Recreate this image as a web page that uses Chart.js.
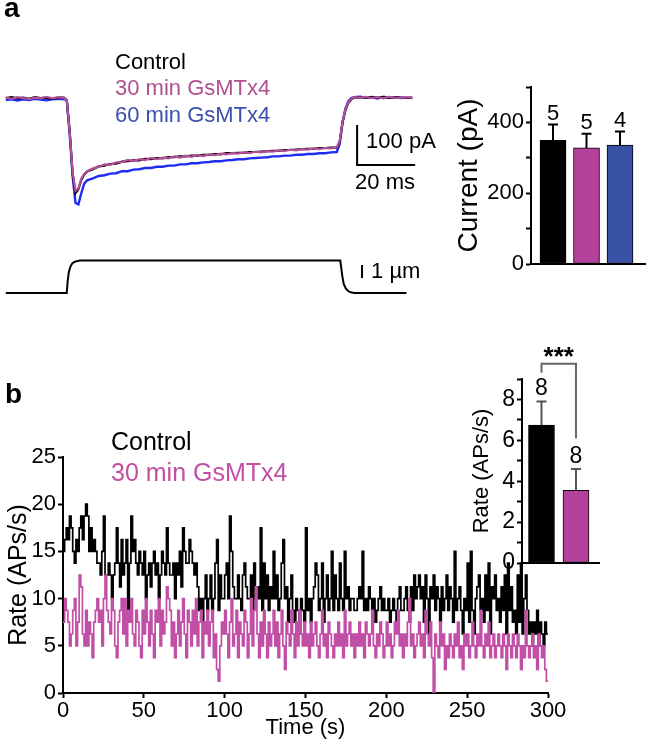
<!DOCTYPE html>
<html>
<head>
<meta charset="utf-8">
<script src="https://cdn.jsdelivr.net/npm/chart.js@4/dist/chart.umd.min.js"></script>
<style>
  body { margin: 0; background: #fff; }
  #page { position: relative; width: 649px; height: 744px; overflow: hidden; font-family: 'Liberation Sans', Arial, sans-serif; }
  canvas { position: absolute; }
  .txt { position: absolute; white-space: nowrap; line-height: 1; }
</style>
</head>
<body>
<div id="page">
  <canvas id="traceA" width="450" height="300" style="left:0;top:0"></canvas>
  <canvas id="barA" width="209" height="210" style="left:440px;top:70px"></canvas>
  <canvas id="rateB" width="580" height="344" style="left:0;top:400px"></canvas>
  <canvas id="barB" width="175" height="250" style="left:440px;top:330px"></canvas>

  <div class="txt" style="left:4px;top:-6px;font-size:28px;font-weight:bold">a</div>
  <div class="txt" style="left:115px;top:51px;font-size:22px;color:#000">Control</div>
  <div class="txt" style="left:115px;top:77px;font-size:22px;color:#b0508f">30 min GsMTx4</div>
  <div class="txt" style="left:115px;top:104px;font-size:22px;color:#3b4fae">60 min GsMTx4</div>

  <div class="txt" style="left:5px;top:380px;font-size:28px;font-weight:bold">b</div>
  <div class="txt" style="left:111px;top:429px;font-size:25px;color:#000">Control</div>
  <div class="txt" style="left:111px;top:460px;font-size:25px;color:#c14fa6">30 min GsMTx4</div>
</div>
<script>
const FONT = "'Liberation Sans', Arial, sans-serif";

// ---- panel a: current traces (ms, pA) ----
const traceTimes = [0, 2, 4, 6, 8, 10, 12, 14, 16, 18, 20,
  21, 22, 23, 24, 25, 26, 27, 28,
  30, 32, 34, 36, 38, 40, 42, 44, 46, 48, 50, 52, 54, 56, 58, 60, 62, 64, 66, 68, 70, 72,
  74, 76, 78, 80, 82, 84, 86, 88, 90, 92, 94, 96, 98, 100, 102, 104, 106, 108, 110, 112, 114,
  115, 116, 117, 118, 119, 120,
  122, 124, 126, 128, 130, 132, 134, 136, 138, 140];
const controlTrace = [0, 2, -1, 1, -2, 2, 0, 1, -2, 1, 1,
  -5, -82, -188, -238, -228, -205, -192, -184,
  -178, -171, -169, -165, -164, -159, -158, -156, -156, -152, -153, -150, -151, -148, -148,
  -146, -146, -144, -144, -142, -142, -140, -141, -138, -138, -137, -137, -135, -135, -134,
  -133, -132, -132, -130, -130, -129, -128, -127, -127, -125, -125, -124, -124,
  -110, -60, -30, -12, -3, 1,
  2, 0, 3, 1, 2, 0, 2, 1, 0, 1];
const gsmtx30Trace = [1, -2, 2, 0, -3, 1, -1, 3, -1, 2, 0,
  -6, -85, -185, -232, -226, -202, -190, -183,
  -176, -172, -166, -167, -161, -160, -155, -158, -153, -155, -150, -153, -149, -151, -146,
  -149, -144, -147, -142, -145, -141, -143, -139, -141, -138, -139, -136, -138, -134, -136,
  -133, -134, -131, -133, -129, -131, -128, -129, -126, -128, -125, -126, -123,
  -108, -58, -28, -10, -2, 2,
  1, 3, 0, 2, -1, 3, 1, 0, 2, 0];
const gsmtx60Trace = [-5, -3, -6, -3, -5, -2, -4, -6, -3, -2, -3,
  -6, -90, -195, -262, -266, -238, -214, -206,
  -201, -195, -193, -189, -188, -183, -183, -179, -178, -175, -175, -172, -172, -169, -169,
  -166, -166, -163, -163, -161, -160, -158, -158, -156, -155, -153, -153, -151, -150, -149,
  -148, -146, -146, -144, -144, -142, -142, -140, -140, -138, -138, -136, -135,
  -115, -60, -26, -8, 0, 2,
  3, 1, 2, -1, 3, 1, 2, 0, 1, 0];

// probe displacement (ms, µm)
const stimTimes = [0, 21, 21.3, 21.7, 22.3, 23, 24, 25.5, 27, 115.2, 115.5, 115.9, 116.4, 117.1, 117.9, 118.8, 120, 138];
const stimDisp = [0, 0, 0.9, 1.6, 2.05, 2.3, 2.43, 2.49, 2.5, 2.5, 2.0, 1.3, 0.7, 0.35, 0.15, 0.05, 0, 0];

// scale bars
const pABar = { t: 121, top: -67.5, len: 100 };
const msBarLen = 20;
const umBar = { t: 122.7, base: 1.15, len: 1 };

// ---- panel a: peak current ----
const currentGroups = ['Control', '30 min GsMTx4', '60 min GsMTx4'];
const currentMean = [349, 328, 336];
const currentSem = [45, 40, 38];
const currentN = [5, 5, 4];

// ---- panel b: firing rate, 1 s bins ----
const binWidth = 1;
const controlRate = [
  15, 16.25, 17.5, 16.25, 18.75, 17.5, 15, 13.75, 16.25, 15,
  17.5, 18.75, 16.25, 18.75, 20, 18.75, 15, 17.5, 15, 16.25,
  15, 13.75, 13.75, 12.5, 15, 18.75, 12.5, 12.5, 13.75, 12.5,
  10, 12.5, 13.75, 17.5, 13.75, 11.25, 16.25, 12.5, 13.75, 16.25,
  7.5, 13.75, 18.75, 15, 16.25, 13.75, 12.5, 15, 13.75, 12.5,
  15, 10, 12.5, 13.75, 11.25, 13.75, 15, 12.5, 13.75, 10,
  12.5, 15, 13.75, 12.5, 17.5, 13.75, 12.5, 12.5, 13.75, 10,
  13.75, 12.5, 15, 11.25, 17.5, 15, 13.75, 13.75, 16.25, 15,
  13.75, 12.5, 13.75, 11.25, 8.75, 10, 7.5, 10, 12.5, 8.75,
  10, 12.5, 8.75, 10, 13.75, 16.25, 8.75, 12.5, 10, 10,
  12.5, 13.75, 10, 18.75, 15, 11.25, 10, 10, 12.5, 10,
  8.75, 12.5, 13.75, 11.25, 10, 10, 12.5, 8.75, 13.75, 10,
  11.25, 10, 17.5, 8.75, 13.75, 10, 12.5, 8.75, 11.25, 10,
  15, 10, 12.5, 8.75, 10, 13.75, 16.25, 10, 11.25, 7.5,
  10, 12.5, 8.75, 7.5, 10, 8.75, 6.25, 10, 8.75, 7.5,
  17.5, 8.75, 10, 7.5, 10, 11.25, 13.75, 12.5, 8.75, 10,
  13.75, 7.5, 10, 12.5, 8.75, 10, 15, 8.75, 12.5, 10,
  8.75, 13.75, 10, 8.75, 15, 10, 11.25, 8.75, 10, 10,
  8.75, 8.75, 10, 11.25, 10, 15, 8.75, 10, 8.75, 11.25,
  10, 8.75, 10, 7.5, 8.75, 10, 11.25, 8.75, 10, 8.75,
  8.75, 10, 7.5, 8.75, 10, 8.75, 7.5, 10, 11.25, 8.75,
  8.75, 10, 11.25, 8.75, 7.5, 11.25, 8.75, 12.5, 10, 11.25,
  12.5, 10, 11.25, 7.5, 12.5, 10, 6.25, 11.25, 10, 12.5,
  8.75, 11.25, 10, 7.5, 11.25, 8.75, 10, 12.5, 8.75, 11.25,
  10, 7.5, 15, 8.75, 10, 11.25, 8.75, 6.25, 10, 8.75,
  13.75, 7.5, 15, 8.75, 6.25, 10, 11.25, 12.5, 8.75, 10,
  7.5, 12.5, 8.75, 13.75, 6.25, 11.25, 10, 12.5, 8.75, 10,
  7.5, 11.25, 8.75, 12.5, 6.25, 13.75, 8.75, 11.25, 7.5, 8.75,
  6.25, 12.5, 7.5, 13.75, 6.25, 10, 12.5, 8.75, 6.25, 7.5,
  5, 7.5, 6.25, 8.75, 5, 7.5, 6.25, 5, 7.5, 6.25
];
const gsmtxRate = [
  7.5, 10, 8.75, 7.5, 5, 6.25, 8.75, 10, 5, 7.5,
  12.5, 11.25, 6.25, 5, 8.75, 5, 7.5, 6.25, 3.75, 7.5,
  8.75, 10, 7.5, 8.75, 5, 10, 12.5, 8.75, 7.5, 6.25,
  10, 8.75, 5, 3.75, 7.5, 8.75, 10, 6.25, 10, 5,
  8.75, 7.5, 10, 6.25, 5, 8.75, 7.5, 5, 3.75, 8.75,
  6.25, 10, 7.5, 5, 8.75, 6.25, 3.75, 8.75, 7.5, 10,
  5, 8.75, 6.25, 7.5, 11.25, 10, 8.75, 5, 7.5, 3.75,
  6.25, 8.75, 5, 7.5, 10, 6.25, 3.75, 8.75, 7.5, 5,
  8.75, 6.25, 10, 5, 7.5, 8.75, 3.75, 7.5, 6.25, 8.75,
  5, 7.5, 8.75, 3.75, 6.25, 2.5, 1.25, 5, 7.5, 6.25,
  8.75, 6.25, 3.75, 7.5, 10, 5, 6.25, 8.75, 3.75, 7.5,
  6.25, 5, 8.75, 7.5, 3.75, 6.25, 10, 5, 8.75, 11.25,
  6.25, 3.75, 7.5, 5, 8.75, 6.25, 3.75, 7.5, 5, 6.25,
  8.75, 5, 7.5, 3.75, 6.25, 8.75, 5, 2.5, 7.5, 6.25,
  5, 8.75, 6.25, 3.75, 7.5, 5, 8.75, 6.25, 5, 7.5,
  5, 6.25, 3.75, 7.5, 5, 6.25, 7.5, 5, 3.75, 6.25,
  8.75, 5, 6.25, 3.75, 7.5, 6.25, 5, 3.75, 6.25, 5,
  7.5, 5, 6.25, 3.75, 8.75, 5, 6.25, 7.5, 5, 6.25,
  3.75, 6.25, 5, 7.5, 5, 6.25, 3.75, 7.5, 6.25, 5,
  6.25, 8.75, 5, 3.75, 6.25, 5, 7.5, 6.25, 3.75, 5,
  7.5, 5, 6.25, 3.75, 5, 7.5, 6.25, 8.75, 5, 6.25,
  3.75, 6.25, 5, 7.5, 10, 5, 6.25, 3.75, 5, 6.25,
  7.5, 5, 6.25, 3.75, 8.75, 6.25, 5, 7.5, 3.75, 0,
  6.25, 5, 3.75, 7.5, 5, 6.25, 2.5, 5, 3.75, 6.25,
  5, 3.75, 6.25, 5, 7.5, 3.75, 5, 2.5, 6.25, 5,
  6.25, 3.75, 5, 7.5, 5, 3.75, 6.25, 5, 8.75, 5,
  3.75, 6.25, 5, 7.5, 3.75, 5, 6.25, 3.75, 5, 6.25,
  5, 3.75, 6.25, 5, 2.5, 6.25, 5, 3.75, 6.25, 5,
  3.75, 6.25, 5, 2.5, 5, 3.75, 8.75, 5, 3.75, 5,
  6.25, 3.75, 5, 2.5, 6.25, 5, 3.75, 5, 2.5, 1.25
];

// ---- panel b inset: mean rate ----
const rateGroups = ['Control', '30 min GsMTx4'];
const rateMean = [6.75, 3.55];
const rateSem = [1.15, 1.05];
const rateN = [8, 8];
const rateSig = '***';

const BLACK = '#000';
const MAG_TRACE = '#b4509a';
const BLUE_TRACE = '#1f2cf2';
const MAG_BAR = '#b3409a';
const BLUE_BAR = '#3a52a6';
const MAG_B = '#c14fa6';

Chart.defaults.font.family = FONT;
Chart.defaults.color = '#000';

const pts = (xs, ys) => xs.map((x, i) => ({ x, y: ys[i] }));

const axisStyle = (size) => ({
  border: { display: true, color: '#000', width: 2 },
  grid: { display: true, drawOnChartArea: false, drawTicks: true, tickLength: 5, tickColor: '#000', tickWidth: 2 },
  ticks: { color: '#000', font: { size }, padding: 2, maxRotation: 0, autoSkip: false }
});

// scale bars + labels for the traces
const scaleBars = {
  id: 'scaleBars',
  afterDatasetsDraw(chart) {
    const { ctx, scales: { x, y, yStim } } = chart;
    const x0 = x.getPixelForValue(pABar.t);
    const x1 = x.getPixelForValue(pABar.t + msBarLen);
    const yTop = y.getPixelForValue(pABar.top);
    const yBot = y.getPixelForValue(pABar.top - pABar.len);
    ctx.save();
    ctx.strokeStyle = '#000';
    ctx.lineWidth = 2;
    ctx.beginPath();
    ctx.moveTo(x0, yTop);
    ctx.lineTo(x0, yBot);
    ctx.lineTo(x1, yBot);
    const ux = x.getPixelForValue(umBar.t);
    ctx.moveTo(ux, yStim.getPixelForValue(umBar.base));
    ctx.lineTo(ux, yStim.getPixelForValue(umBar.base + umBar.len));
    ctx.stroke();
    ctx.fillStyle = '#000';
    ctx.font = '22px ' + FONT;
    ctx.textBaseline = 'middle';
    ctx.textAlign = 'left';
    ctx.fillText('100 pA', x0 + 9, (yTop + yBot) / 2 - 3);
    ctx.fillText('20 ms', x0 - 2, yBot + 18);
    ctx.fillText('1 µm', ux + 9, yStim.getPixelForValue(umBar.base + umBar.len / 2));
    ctx.restore();
  }
};

new Chart(document.getElementById('traceA'), {
  type: 'line',
  data: {
    datasets: [
      { label: '30 min GsMTx4', data: pts(traceTimes, gsmtx30Trace), borderColor: MAG_TRACE, borderWidth: 2.2 },
      { label: 'Control', data: pts(traceTimes, controlTrace), borderColor: BLACK, borderWidth: 2.2 },
      { label: '60 min GsMTx4', data: pts(traceTimes, gsmtx60Trace), borderColor: BLUE_TRACE, borderWidth: 2.4 },
      { label: 'Probe', data: pts(stimTimes, stimDisp), borderColor: BLACK, borderWidth: 2, yAxisID: 'yStim' }
    ]
  },
  options: {
    responsive: false,
    animation: false,
    layout: { padding: 0, autoPadding: false },
    elements: { point: { radius: 0 }, line: { tension: 0 } },
    scales: {
      x: { type: 'linear', display: false, min: -2, max: 153 },
      y: { display: false, min: -505, max: 245 },
      yStim: { display: false, min: -0.54, max: 22.54 }
    },
    plugins: { legend: { display: false }, tooltip: { enabled: false } }
  },
  plugins: [scaleBars]
});

// error bars, n labels and optional significance bracket
function makeErrorPlugin(means, sems, ns, opts) {
  return {
    id: 'errs' + opts.key,
    afterDatasetsDraw(chart) {
      const { ctx, scales: { y } } = chart;
      const meta = chart.getDatasetMeta(0);
      ctx.save();
      means.forEach((m, i) => {
        const el = meta.data[i];
        const top = y.getPixelForValue(m + sems[i]);
        ctx.strokeStyle = opts.errColor;
        ctx.lineWidth = 2;
        ctx.beginPath();
        ctx.moveTo(el.x, el.y);
        ctx.lineTo(el.x, top);
        ctx.moveTo(el.x - 5, top);
        ctx.lineTo(el.x + 5, top);
        ctx.stroke();
        ctx.fillStyle = '#000';
        ctx.font = opts.nFont + 'px ' + FONT;
        ctx.textAlign = 'center';
        ctx.textBaseline = 'alphabetic';
        ctx.fillText(String(ns[i]), el.x, top - opts.nGap);
      });
      if (opts.sig) {
        const a = meta.data[0], b = meta.data[1];
        const yA = y.getPixelForValue(opts.sig.from);
        const yTop = y.getPixelForValue(opts.sig.top);
        const yB = y.getPixelForValue(opts.sig.to);
        ctx.strokeStyle = '#666';
        ctx.lineWidth = 2;
        ctx.beginPath();
        ctx.moveTo(a.x, yA);
        ctx.lineTo(a.x, yTop);
        ctx.lineTo(b.x, yTop);
        ctx.lineTo(b.x, yB);
        ctx.stroke();
        ctx.fillStyle = '#000';
        ctx.font = 'bold 26px ' + FONT;
        ctx.textBaseline = 'middle';
        ctx.fillText(opts.sig.text, (a.x + b.x) / 2, yTop - 6);
      }
      ctx.restore();
    }
  };
}

function barChart(id, groups, means, colors, cfg, plugin) {
  return new Chart(document.getElementById(id), {
    type: 'bar',
    data: {
      labels: groups,
      datasets: [{
        data: means.map((v, i) => ({ x: i + 1, y: v })),
        backgroundColor: colors,
        borderColor: '#000',
        borderWidth: 1,
        borderSkipped: false,
        barThickness: 26
      }]
    },
    options: {
      responsive: false,
      animation: false,
      layout: { padding: cfg.padding, autoPadding: false },
      scales: {
        x: {
          type: 'linear', offset: false, min: cfg.xMin, max: cfg.xMax,
          border: { display: true, color: '#000', width: 2 },
          grid: { display: false },
          ticks: { display: false },
          afterFit: s => { s.height = cfg.xHeight; }
        },
        y: Object.assign(axisStyle(cfg.tickFont), {
          min: 0, max: cfg.yMax,
          afterFit: s => { s.width = cfg.yWidth; },
          title: { display: true, text: cfg.title, font: { size: cfg.titleFont }, color: '#000', padding: { top: cfg.titlePad, bottom: 0 } }
        })
      },
      plugins: { legend: { display: false }, tooltip: { enabled: false } }
    },
    plugins: [plugin]
  });
}

const ca = barChart('barA', currentGroups, currentMean, [BLACK, MAG_BAR, BLUE_BAR], {
  padding: { top: 17, left: 0, right: 4, bottom: 0 }, xMin: 0.343, xMax: 3.746, xHeight: 16,
  yMax: 500, yWidth: 91, tickFont: 22, title: 'Current (pA)', titleFont: 28, titlePad: 12
}, makeErrorPlugin(currentMean, currentSem, currentN, { key: 'A', errColor: '#000', nFont: 22, nGap: 5 }));
ca.options.scales.y.ticks.stepSize = 100;
ca.options.scales.y.ticks.callback = v => (v % 200 === 0 ? v : '');
ca.update();

const cb = barChart('barB', rateGroups, rateMean, [BLACK, MAG_BAR], {
  padding: { top: 49, left: 0, right: 16, bottom: 0 }, xMin: 0.435, xMax: 2.667, xHeight: 17,
  yMax: 9, yWidth: 82, tickFont: 23, title: 'Rate (APs/s)', titleFont: 22, titlePad: 29
}, makeErrorPlugin(rateMean, rateSem, rateN, {
  key: 'B', errColor: '#555', nFont: 23, nGap: 6,
  sig: { from: 9.3, top: 9.75, to: 6.1, text: rateSig }
}));
cb.options.scales.y.ticks.stepSize = 1;
cb.options.scales.y.ticks.callback = v => (v % 2 === 0 ? v : '');
cb.update();

const stepData = (vals) => vals.map((v, i) => ({ x: i * binWidth, y: v }))
  .concat([{ x: vals.length * binWidth, y: vals[vals.length - 1] }]);

const rb = new Chart(document.getElementById('rateB'), {
  type: 'line',
  data: {
    datasets: [
      { label: '30 min GsMTx4', data: stepData(gsmtxRate), borderColor: MAG_B, borderWidth: 1.7, stepped: 'before' },
      { label: 'Control', data: stepData(controlRate), borderColor: BLACK, borderWidth: 1.7, stepped: 'before' }
    ]
  },
  options: {
    responsive: false,
    animation: false,
    layout: { padding: { top: 57, right: 32, left: 0, bottom: 0 }, autoPadding: false },
    elements: { point: { radius: 0 } },
    scales: {
      x: Object.assign(axisStyle(22), {
        type: 'linear', min: 0, max: 300,
        afterFit: s => { s.height = 51; },
        title: { display: true, text: 'Time (s)', font: { size: 22 }, color: '#000', padding: { top: 0, bottom: 3 } }
      }),
      y: Object.assign(axisStyle(22), {
        min: 0, max: 25,
        afterFit: s => { s.width = 63; },
        title: { display: true, text: 'Rate (APs/s)', font: { size: 25 }, color: '#000', padding: { top: 4, bottom: 0 } }
      })
    },
    plugins: { legend: { display: false }, tooltip: { enabled: false } }
  }
});
rb.options.scales.x.ticks.stepSize = 50;
rb.options.scales.x.ticks.padding = 0;
rb.options.scales.y.ticks.stepSize = 5;
rb.update();
</script>
</body>
</html>
